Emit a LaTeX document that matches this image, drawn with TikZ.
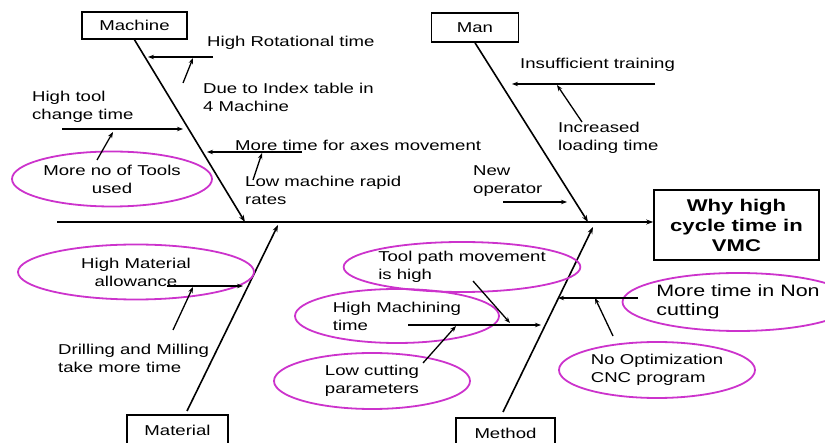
\documentclass[tikz,border=0pt]{standalone}
\usepackage{fontspec}
\setmainfont{Liberation Sans}[FakeStretch=1.3]
\usetikzlibrary{arrows.meta,positioning,shapes.geometric}
\definecolor{ovalpink}{RGB}{204,51,204}
\begin{document}
\begin{tikzpicture}[x=1pt, y=-1pt,
    txt/.style={inner sep=0pt, align=left, anchor=west, font=\fontsize{14.3}{18}\selectfont},
    box/.style={draw, line width=1.6pt, inner sep=0pt, font=\fontsize{14.3}{18}\selectfont},
    oval/.style={draw=ovalpink, line width=1.8pt, ellipse, inner sep=0pt, align=left, font=\fontsize{14.3}{18}\selectfont},
    bone/.style={line width=1.6pt, -{Stealth[length=7pt,width=5pt]}},
    twig/.style={line width=1.3pt, -{Stealth[length=6pt,width=4.5pt]}}]

    \useasboundingbox (0,0) rectangle (825,443);
    \clip (0,0) rectangle (825,443);

    \node[box, minimum width=105pt, minimum height=27pt] (machine) at (134.5,25.5) {Machine};
    \node[box, minimum width=87pt, minimum height=29pt] (man) at (475,27.5) {Man};
    \node[box, minimum width=101pt, minimum height=30pt] (material) at (177.5,430) {Material};
    \node[box, minimum width=99pt, minimum height=30pt] (method) at (505.5,433) {Method};
    \node[box, minimum width=165pt, minimum height=70pt, align=center,
          font=\bfseries\fontsize{17}{20}\selectfont] (effect) at (736.5,225) {Why high\\cycle time in\\VMC};

    \coordinate (tail) at (57,222);
    \coordinate (jmach) at (245,222);
    \coordinate (jman) at (588,222);
    \coordinate (jmat) at (278,225);
    \coordinate (jmeth) at (593,227);
    \coordinate (matfoot) at (187,411);
    \coordinate (methfoot) at (503,412);

    \draw[bone] (tail) -- (tail -| effect.west);
    \draw[bone] (machine.south) -- (jmach);
    \draw[bone] (man.south) -- (jman);
    \draw[bone] (matfoot) -- (jmat);
    \draw[bone] (methfoot) -- (jmeth);

    % machine
    \node[txt] (rotation) at (207,43) {High Rotational time};
    \coordinate (rotA) at (213,57);
    \coordinate (rotB) at (148,57);
    \draw[twig] (rotA) -- (rotB);
    \node[txt] (index) at (203,97.5) {Due to Index table in\\4 Machine};
    \coordinate (indexA) at (183,83);
    \coordinate (indexB) at (193,58);
    \draw[twig] (indexA) -- (indexB);

    \node[txt] (toolchange) at (32,106.5) {High tool\\change time};
    \coordinate (tcA) at (62,129);
    \coordinate (tcB) at (183,129);
    \draw[twig] (tcA) -- (tcB);
    \node[oval, align=center, minimum width=200pt, minimum height=55pt] (tools) at (112,179) {More no of Tools\\used};
    \coordinate (toolsA) at (97,160);
    \coordinate (toolsB) at (113,132);
    \draw[twig] (toolsA) -- (toolsB);

    \node[txt] (axes) at (235,145) {More time for axes movement};
    \coordinate (axA) at (302,152);
    \coordinate (axB) at (207,152);
    \draw[twig] (axA) -- (axB);
    \node[txt] (rapid) at (245,190.5) {Low machine rapid\\rates};
    \coordinate (rapA) at (253,180);
    \coordinate (rapB) at (262,153);
    \draw[twig] (rapA) -- (rapB);

    % man
    \node[txt] (training) at (520,65) {Insufficient training};
    \coordinate (trA) at (655,84);
    \coordinate (trB) at (512,84);
    \draw[twig] (trA) -- (trB);
    \node[txt] (loading) at (558,137.5) {Increased\\loading time};
    \coordinate (ldA) at (582,122);
    \coordinate (ldB) at (557,85);
    \draw[twig] (ldA) -- (ldB);
    \node[txt] (newop) at (473,181.5) {New\\operator};
    \coordinate (noA) at (503,202);
    \coordinate (noB) at (567,202);
    \draw[twig] (noA) -- (noB);

    % material
    \node[oval, align=center, minimum width=236pt, minimum height=55pt] (allowance) at (136,272) {High Material\\allowance};
    \coordinate (alA) at (167,286);
    \coordinate (alB) at (243,286);
    \draw[twig] (alA) -- (alB);
    \node[txt] (drilling) at (58,358.5) {Drilling and Milling\\take more time};
    \coordinate (drA) at (173,330);
    \coordinate (drB) at (193,287);
    \draw[twig] (drA) -- (drB);

    % method
    \node[oval, minimum width=234pt, minimum height=50pt] (toolpath) at (462,267) {Tool path movement\\is high};
    \node[oval, minimum width=204pt, minimum height=54pt] (machining) at (397,316) {High Machining\\time};
    \node[oval, minimum width=196pt, minimum height=56pt] (cutting) at (372,381) {Low cutting\\parameters};
    \coordinate (mcA) at (408,325);
    \coordinate (mcB) at (541,325);
    \draw[twig] (mcA) -- (mcB);
    \coordinate (tpA) at (473,281);
    \coordinate (tpB) at (510,323);
    \draw[twig] (tpA) -- (tpB);
    \coordinate (lcA) at (423,363);
    \coordinate (lcB) at (456,326);
    \draw[twig] (lcA) -- (lcB);

    \node[oval, minimum height=58pt, font=\fontsize{16.5}{19}\selectfont] (noncut) at (738,302) {More time in Non\\cutting};
    \coordinate (ncA) at (638,298);
    \coordinate (ncB) at (558,298);
    \draw[twig] (ncA) -- (ncB);
    \node[oval, minimum width=196pt, minimum height=56pt] (cnc) at (657,370) {No Optimization\\CNC program};
    \coordinate (cnA) at (613,336);
    \coordinate (cnB) at (595,298);
    \draw[twig] (cnA) -- (cnB);
\end{tikzpicture}
\end{document}
